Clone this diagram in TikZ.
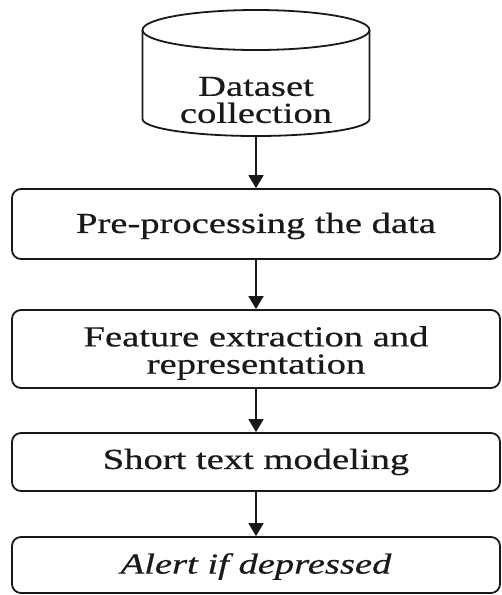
\documentclass[tikz,border=0pt]{standalone}
\usepackage{fontspec}
\setmainfont{Liberation Serif}[FakeStretch=1.33,FakeBold=0.6]
\usetikzlibrary{arrows.meta}
\definecolor{ink}{RGB}{25,25,25}
% lower a text by #1 while keeping its box size, so the node stays centred
\newcommand{\lowered}[2]{\raisebox{-#1}[\height][\depth]{#2}}
\newcommand{\twolines}[2]{\begin{tabular}{@{}c@{}}#1\\#2\end{tabular}}
\begin{document}
\begin{tikzpicture}[x=1pt,y=-1pt,
  label text/.style={font=\fontsize{29}{27}\selectfont, text=ink, align=center, inner sep=0pt},
  stepbox/.style={label text, draw=ink, line width=1.8pt, rounded corners=9pt,
    minimum width=488pt},
  flow/.style={draw=ink, line width=1.8pt, -{Triangle[width=15pt,length=13pt]}}]
\useasboundingbox (0,0) rectangle (502,595);

% data store drawn as a cylinder
\draw[draw=ink, line width=1.8pt] (256,30) ellipse [x radius=113.5pt, y radius=20pt];
\draw[draw=ink, line width=1.8pt] (142.5,30) -- (142.5,119)
  arc[start angle=180, end angle=360, x radius=113.5pt, y radius=17pt] -- (369.5,30);
\node[label text] (ds) at (256,100) {Dataset\\collection};
\coordinate (dsb) at (256,136);

% processing steps
\node[stepbox, minimum height=70pt] (pre)   at (256,224)
  {\lowered{2pt}{Pre-processing the data}};
\node[stepbox, minimum height=78pt] (feat)  at (256,349)
  {\lowered{5pt}{\twolines{Feature extraction and}{representation}}};
\node[stepbox, minimum height=58pt] (model) at (256,462) {Short text modeling};
\node[stepbox, minimum height=56pt] (alert) at (256,565)
  {\lowered{1.5pt}{\itshape Alert if depressed}};

% connectors
\draw[flow] (dsb) -- (pre.north);
\draw[flow] (pre.south) -- (feat.north);
\draw[flow] (feat.south) -- (model.north);
\draw[flow] (model.south) -- (alert.north);
\end{tikzpicture}
\end{document}
